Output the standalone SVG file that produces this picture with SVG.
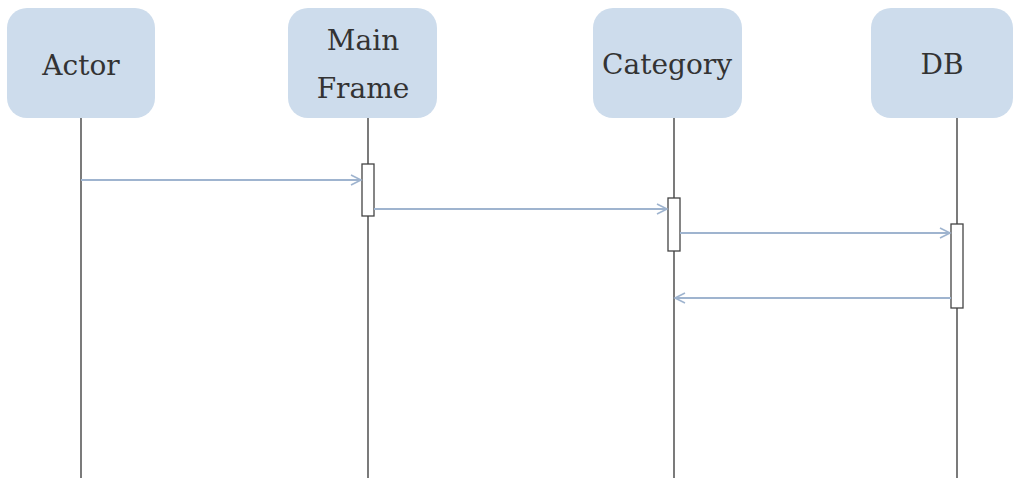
<svg xmlns="http://www.w3.org/2000/svg" width="1014" height="482" viewBox="0 0 1014 482">
<style>
.box{fill:#cddcec;stroke:none}
.lbl{font-family:"DejaVu Serif","Liberation Serif",serif;font-size:28px;fill:#333;text-anchor:middle}
.life{stroke:#333;stroke-width:1.3;fill:none}
.act{fill:#fff;stroke:#444;stroke-width:1.3}
.msg{stroke:#9fb4cf;stroke-width:1.8;fill:none;marker-end:url(#ah)}
</style>
<defs>
<marker id="ah" markerWidth="14" markerHeight="12" refX="12" refY="6" orient="auto" markerUnits="userSpaceOnUse">
<path d="M2,1 L12,6 L2,11" fill="none" stroke="#9fb4cf" stroke-width="1.6"/>
</marker>
</defs>
<rect width="1014" height="482" fill="#fff"/>
<g id="actor">
<rect class="box" x="7" y="8" width="148" height="110" rx="20"/>
<text class="lbl" x="81" y="75">Actor</text>
<line class="life" x1="81" y1="118" x2="81" y2="478"/>
</g>
<g id="mainframe">
<rect class="box" x="288" y="8" width="149" height="110" rx="20"/>
<text class="lbl" x="363" y="50">Main</text>
<text class="lbl" x="363" y="98">Frame</text>
<line class="life" x1="368" y1="118" x2="368" y2="478"/>
<rect class="act" x="362" y="164" width="12" height="52"/>
</g>
<g id="category">
<rect class="box" x="593" y="8" width="149" height="110" rx="20"/>
<text class="lbl" x="667" y="74">Category</text>
<line class="life" x1="674" y1="118" x2="674" y2="478"/>
<rect class="act" x="668" y="198" width="12" height="53"/>
</g>
<g id="db">
<rect class="box" x="871" y="8" width="142" height="110" rx="20"/>
<text class="lbl" x="942" y="74">DB</text>
<line class="life" x1="957" y1="118" x2="957" y2="478"/>
<rect class="act" x="951" y="224" width="12" height="84"/>
</g>
<g id="connectors">
<line class="msg" x1="81" y1="180" x2="361" y2="180"/>
<line class="msg" x1="374" y1="209" x2="667" y2="209"/>
<line class="msg" x1="680" y1="233" x2="950" y2="233"/>
<line class="msg" x1="951" y1="298" x2="675" y2="298"/>
</g>
</svg>
